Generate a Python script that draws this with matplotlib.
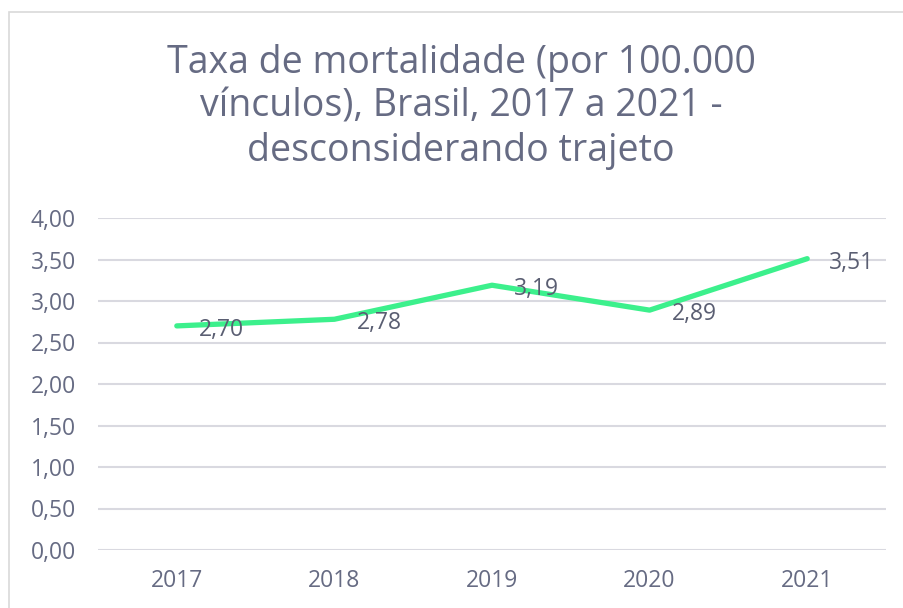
import matplotlib
matplotlib.use('Agg')
import matplotlib.pyplot as plt

# values
anos = ['2017', '2018', '2019', '2020', '2021']
taxa = [2.70, 2.78, 3.19, 2.89, 3.51]
rotulos = ['2,70', '2,78', '3,19', '2,89', '3,51']
y_ticks = [0.0, 0.5, 1.0, 1.5, 2.0, 2.5, 3.0, 3.5, 4.0]

TEXTO = '#666b83'
ROTULO = '#5a5e72'
GRADE = '#d9d9e0'
LINHA = '#3cf08c'

plt.rcParams['font.family'] = ['Open Sans', 'DejaVu Sans']

fig = plt.figure(figsize=(9.04, 6.08), dpi=100)

# chart border (only top and left visible in the crop)
borda = plt.Rectangle((8.5 / 904, -0.1), 1.2, 1.1 - 12.5 / 608,
                      transform=fig.transFigure, fill=False,
                      edgecolor='#d9d9d9', linewidth=1.2)
fig.patches.append(borda)

ax = fig.add_axes([98 / 904, (608 - 550) / 608, 788 / 904, 332 / 608])

x = list(range(len(anos)))
ax.plot(x, taxa, color=LINHA, linewidth=3.8, solid_capstyle='round',
        solid_joinstyle='round', zorder=3)

for xi, yi, txt in zip(x, taxa, rotulos):
    ax.annotate(txt, (xi, yi), xytext=(16, -3), textcoords='offset points',
                ha='left', va='center', fontsize=16.5, color=ROTULO,
                zorder=4)

ax.set_xlim(-0.5, len(anos) - 0.5)
ax.set_ylim(0, 4)
ax.set_xticks(x)
ax.set_xticklabels(anos)
ax.set_yticks(y_ticks)
ax.set_yticklabels([('%.2f' % v).replace('.', ',') for v in y_ticks])
ax.tick_params(axis='both', length=0, labelsize=16.5, labelcolor=TEXTO)
ax.tick_params(axis='x', pad=14)
ax.tick_params(axis='y', pad=16)
ax.grid(axis='y', color=GRADE, linewidth=1.5)
ax.set_axisbelow(True)
for s in ax.spines.values():
    s.set_visible(False)

fig.text(461 / 904, 1 - 107 / 608,
         'Taxa de mortalidade (por 100.000\nvínculos), Brasil, 2017 a 2021 -\ndesconsiderando trajeto',
         ha='center', va='center', fontsize=27, color=TEXTO, linespacing=1.2)

fig.savefig('out.png', dpi=100)
